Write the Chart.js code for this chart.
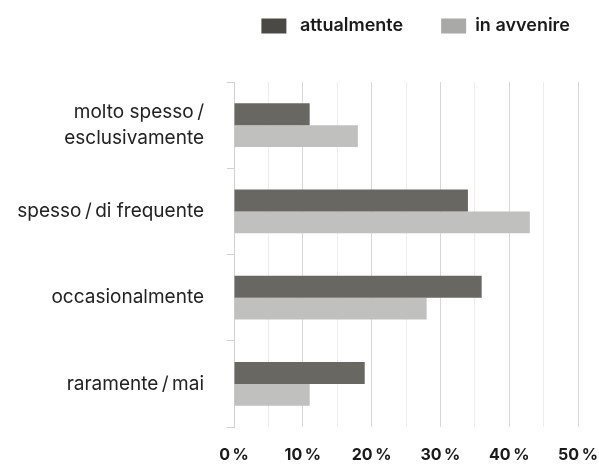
<!DOCTYPE html>
<html lang="it">
<head>
    <meta charset="UTF-8">
    <title>Frequenza d'uso</title>
    <script src="https://cdn.jsdelivr.net/npm/chart.js"></script>
    <style>
        html, body { margin: 0; padding: 0; background: #fff; }
        #wrap { width: 599px; height: 468px; }
    </style>
</head>
<body>
    <div id="wrap"><canvas id="usageChart"></canvas></div>

    <script>
        // data
        const categories = [
            ['molto spesso\u2009/', 'esclusivamente'],
            'spesso\u2009/\u2009di frequente',
            'occasionalmente',
            'raramente\u2009/\u2009mai'
        ];
        const seriesNames = ['attualmente', 'in avvenire'];
        const attualmente = [11, 34, 36, 19];
        const inAvvenire = [18, 43, 28, 11];
        const xTicks = [0, 10, 20, 30, 40, 50];

        const barColors = ['#686762', '#c0c0bf'];
        const legendColors = ['#4a4944', '#a9a9a8'];
        const fontFamily = 'Inter, "Noto Sans", sans-serif';

        // stretch the legend box so the plot starts lower
        const legendSpace = {
            id: 'legendSpace',
            beforeInit(chart) {
                const fit = chart.legend.fit;
                chart.legend.fit = function () {
                    fit.call(this);
                    this.height = 82;
                };
            }
        };

        const ctx = document.getElementById('usageChart').getContext('2d');
        const usageChart = new Chart(ctx, {
            type: 'bar',
            data: {
                labels: categories,
                datasets: [
                    {
                        label: seriesNames[0],
                        data: attualmente,
                        backgroundColor: barColors[0],
                        categoryPercentage: 0.51,
                        barPercentage: 1
                    },
                    {
                        label: seriesNames[1],
                        data: inAvvenire,
                        backgroundColor: barColors[1],
                        categoryPercentage: 0.51,
                        barPercentage: 1
                    }
                ]
            },
            options: {
                indexAxis: 'y',
                responsive: true,
                maintainAspectRatio: false,
                animation: false,
                layout: { padding: { right: 21, bottom: 3 } },
                plugins: {
                    tooltip: { enabled: false },
                    legend: {
                        position: 'top',
                        fullSize: false,
                        align: 'end',
                        title: {
                            display: true,
                            text: '',
                            padding: 0,
                            font: { size: 7.5, lineHeight: 1.2 }
                        },
                        labels: {
                            boxWidth: 25,
                            boxHeight: 15,
                            padding: 8,
                            color: '#1a1a1a',
                            font: { family: fontFamily, size: 18, weight: '600' },
                            generateLabels: (chart) => chart.data.datasets.map((ds, i) => ({
                                text: (i === 0 ? ' ' + ds.label + '\u2003\u2002\u2009' : ds.label),
                                fillStyle: legendColors[i],
                                strokeStyle: legendColors[i],
                                fontColor: '#1a1a1a',
                                lineWidth: 0,
                                datasetIndex: i
                            }))
                        }
                    }
                },
                scales: {
                    x: {
                        min: 0,
                        max: 50,
                        afterBuildTicks: (scale) => {
                            const t = [];
                            for (let v = 0; v <= 50; v += 5) t.push({ value: v });
                            scale.ticks = t;
                        },
                        afterFit: (scale) => {
                            scale.height = 38;
                            scale.paddingLeft = 0;
                            scale.paddingRight = 0;
                        },
                        border: { display: false },
                        grid: {
                            drawTicks: false,
                            color: (c) => (xTicks.includes(c.tick.value) ? '#d8d8d8' : '#ededed'),
                            lineWidth: 1
                        },
                        ticks: {
                            autoSkip: false,
                            maxRotation: 0,
                            padding: 19,
                            color: '#1a1a1a',
                            font: { family: fontFamily, size: 16, weight: 'bold' },
                            callback: (v) => (xTicks.includes(v) ? v + '\u2009%' : '')
                        }
                    },
                    y: {
                        afterFit: (scale) => {
                            scale.width = 234;
                            scale.paddingTop = 0;
                            scale.paddingBottom = 0;
                        },
                        border: { display: true, color: '#d2d2d2' },
                        grid: {
                            drawOnChartArea: false,
                            tickLength: 7,
                            color: '#d2d2d2'
                        },
                        ticks: {
                            padding: 23,
                            color: '#222',
                            font: { family: fontFamily, size: 19, lineHeight: 1.37 }
                        }
                    }
                }
            },
            plugins: [legendSpace]
        });
    </script>
</body>
</html>
